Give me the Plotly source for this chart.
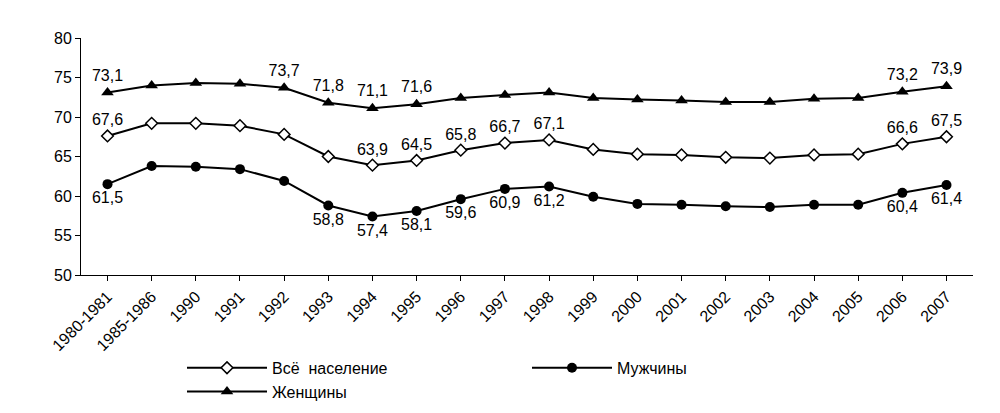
import plotly.graph_objs as go

years = ["1980-1981", "1985-1986", "1990", "1991", "1992", "1993", "1994", "1995", "1996", "1997",
         "1998", "1999", "2000", "2001", "2002", "2003", "2004", "2005", "2006", "2007"]
women = [73.1, 74.0, 74.3, 74.2, 73.7, 71.8, 71.1, 71.6, 72.4, 72.8,
         73.1, 72.4, 72.2, 72.1, 71.9, 71.9, 72.3, 72.4, 73.2, 73.9]
total = [67.6, 69.2, 69.2, 68.9, 67.8, 65.0, 63.9, 64.5, 65.8, 66.7,
         67.1, 65.9, 65.3, 65.2, 64.9, 64.8, 65.2, 65.3, 66.6, 67.5]
men = [61.5, 63.8, 63.7, 63.4, 61.9, 58.8, 57.4, 58.1, 59.6, 60.9,
       61.2, 59.9, 59.0, 58.9, 58.7, 58.6, 58.9, 58.9, 60.4, 61.4]

# which points get a value label
women_lab = [0, 4, 5, 6, 7, 18, 19]
total_lab = [0, 6, 7, 8, 9, 10, 18, 19]
men_lab = [0, 5, 6, 7, 8, 9, 10, 18, 19]


def labels(vals, idx):
    return [("%.1f" % v).replace(".", ",") if i in idx else "" for i, v in enumerate(vals)]


fig = go.Figure()
fig.add_trace(go.Scatter(x=years, y=total, name="Всё  население", mode="lines+markers+text",
                         line=dict(color="black", width=2),
                         marker=dict(symbol="diamond", size=9, color="white", line=dict(color="black", width=1.5)),
                         text=labels(total, total_lab), textposition="top center"))
fig.add_trace(go.Scatter(x=years, y=men, name="Мужчины", mode="lines+markers+text",
                         line=dict(color="black", width=2),
                         marker=dict(symbol="circle", size=10, color="black"),
                         text=labels(men, men_lab), textposition="bottom center"))
fig.add_trace(go.Scatter(x=years, y=women, name="Женщины", mode="lines+markers+text",
                         line=dict(color="black", width=2),
                         marker=dict(symbol="triangle-up", size=11, color="black"),
                         text=labels(women, women_lab), textposition="top center"))

fig.update_traces(textfont=dict(size=16, color="black"), cliponaxis=False)
fig.update_layout(
    width=1000, height=413, plot_bgcolor="white", paper_bgcolor="white",
    font=dict(family="Liberation Sans, Arial", size=16, color="black"),
    margin=dict(l=73, r=35, t=30, b=123),
    xaxis=dict(tickangle=-45, showline=True, linecolor="black", ticks="outside",
               tickcolor="black", showgrid=False, range=[-0.6, 19.6]),
    yaxis=dict(range=[50, 80], dtick=5, showline=True, linecolor="black", ticks="outside",
               tickcolor="black", showgrid=False),
    legend=dict(orientation="h", x=0.5, xanchor="center", y=-0.32, yanchor="top",
                font=dict(size=16), itemwidth=80, entrywidth=250),
)
fig.write_html("out.html")
